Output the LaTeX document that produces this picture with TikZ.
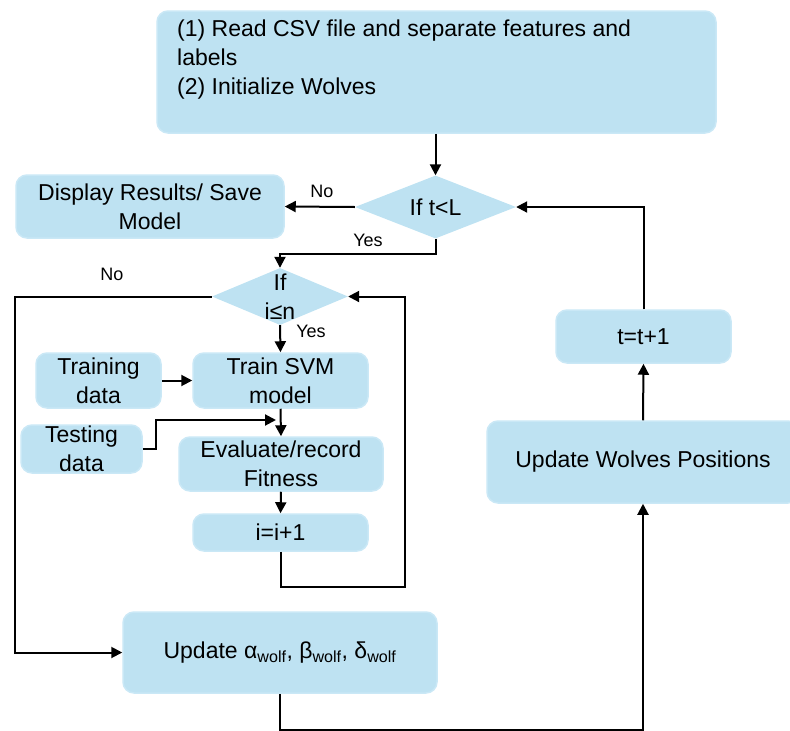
\documentclass[tikz,border=0pt]{standalone}
\usepackage{fontspec}
\setmainfont{Liberation Sans}
\usetikzlibrary{shapes.geometric,arrows.meta}
\definecolor{boxfill}{HTML}{BEE2F2}
\definecolor{boxedge}{HTML}{CAE8F6}
\begin{document}
\begin{tikzpicture}[x=1pt,y=-1pt,
  box/.style={draw=boxedge, line width=1.5pt, fill=boxfill, rounded corners=11pt,
    inner sep=0pt, align=center, font=\fontsize{23}{29}\selectfont},
  dia/.style={diamond, fill=boxfill, inner sep=0pt},
  txt/.style={inner sep=0pt, align=center, font=\fontsize{23}{29}\selectfont},
  flow/.style={line width=2pt, -{Triangle[length=11pt,width=11pt]}},
  lbl/.style={inner sep=0pt, font=\fontsize{18}{20}\selectfont}]
\useasboundingbox (0,0) rectangle (790,731);

% process boxes
\node[box, minimum width=559, minimum height=122] (top) at (436.5,72) {};
\node[txt, anchor=north west, align=left] (toptext) at (177,20)
  {(1) Read CSV file and separate features and\\labels\\(2) Initialize Wolves};
\node[box, minimum width=268, minimum height=63] (disp) at (150,206.5)
  {Display Results/ Save\\Model};
\node[box, minimum width=125, minimum height=55] (train) at (98.5,380.5)
  {Training\\data};
\node[box, minimum width=175, minimum height=55] (svm) at (280.5,380.5)
  {Train SVM\\model};
\node[box, minimum width=121, minimum height=48] (test) at (81.5,449)
  {Testing\\data};
\node[box, minimum width=204, minimum height=54] (eval) at (281,464)
  {Evaluate/record\\Fitness};
\node[box, minimum width=175, minimum height=37] (inc) at (280.5,532.5)
  {i=i+1};
\node[box, minimum width=314, minimum height=81] (upd) at (280,652.5)
  {Update α\textsubscript{wolf}, β\textsubscript{wolf}, δ\textsubscript{wolf}};
\node[box, minimum width=312, minimum height=82] (wolves) at (643,462)
  {Update Wolves Positions};
\node[box, minimum width=175, minimum height=53] (tinc) at (643.5,336.5)
  {t=t+1};

% decisions
\node[dia, minimum width=161, minimum height=63] (d1) at (435.5,207) {};
\node[txt] (d1text) at (d1.center) {If t<L};
\node[dia, minimum width=136, minimum height=57] (d2) at (280,296.5) {};
\node[txt] (d2text) at (d2.center) {If\\i≤n};

% bend points
\coordinate (nocorner) at (15,296.5);
\coordinate (testin) at (276,420);
\coordinate (loopc) at (405,587);

% connectors
\draw[flow] (d1.north |- top.south) -- (d1.north);
\draw[flow] (d1.west) -- (disp.east);
\draw[flow] (d1.south) -- ++(0,15) -| (d2.north);
\draw[flow] (d2.west) -- (nocorner) |- (upd.west);
\draw[flow] (d2.south) -- (svm.north);
\draw[flow] (train.east) -- (svm.west);
\draw[flow] (svm.south) -- (eval.north);
\draw[flow] (test.east) -- ++(13,0) |- (testin);
\draw[flow] (eval.south) -- (inc.north);
\draw[flow] (inc.south) |- (loopc) |- (d2.east);
\draw[flow] (upd.south) -- ++(0,36) -| (wolves.south);
\draw[flow] (wolves.north) -- (tinc.south);
\draw[flow] (tinc.north) |- (d1.east);

% branch labels
\node[lbl] (no1) at (322,191) {No};
\node[lbl] (yes1) at (368,240) {Yes};
\node[lbl] (no2) at (112,274) {No};
\node[lbl] (yes2) at (311,331) {Yes};
\end{tikzpicture}
\end{document}
